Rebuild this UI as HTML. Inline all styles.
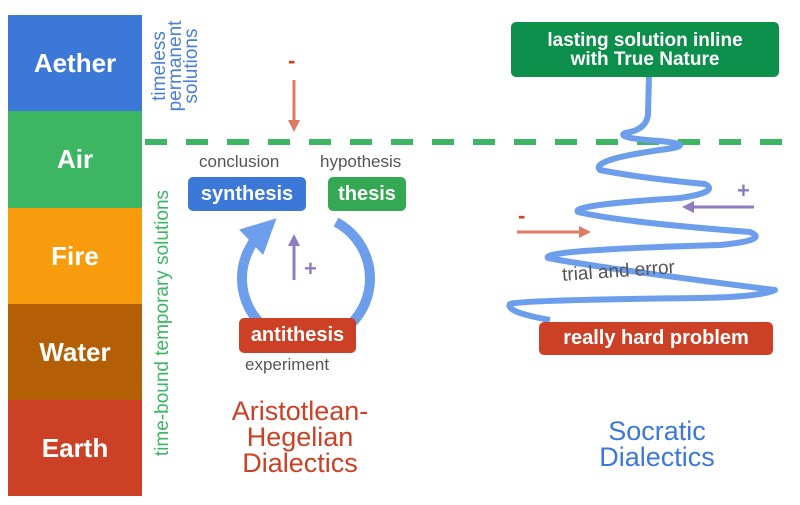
<!DOCTYPE html>
<html><head><style>
body{margin:0;width:800px;height:505px;background:#fff;position:relative;overflow:hidden;font-family:"Liberation Sans",sans-serif}
.bar{position:absolute;left:8px;width:134px;color:#fff;font-size:26px;font-weight:bold;display:flex;align-items:center;justify-content:center}
.box{position:absolute;color:#fff;font-weight:bold;border-radius:5px;display:flex;align-items:center;justify-content:center;text-align:center}
.t{position:absolute;white-space:nowrap}
</style></head><body>
<div class="bar" style="top:15px;height:96px;background:#3c78d8">Aether</div>
<div class="bar" style="top:111px;height:97px;background:#3cb663">Air</div>
<div class="bar" style="top:208px;height:96px;background:#f89b0c">Fire</div>
<div class="bar" style="top:304px;height:96px;background:#b45f06">Water</div>
<div class="bar" style="top:400px;height:96px;background:#cc4125">Earth</div>

<div class="t" style="left:176px;top:66px;transform:translate(-50%,-50%) rotate(-90deg);color:#4a7fd6;font-size:19px;line-height:16px;text-align:center">timeless<br>permanent<br>solutions</div>
<div class="t" style="left:163px;top:323px;transform:translate(-50%,-50%) rotate(-90deg);color:#3cb663;font-size:19px">time-bound temporary solutions</div>

<svg width="800" height="505" style="position:absolute;left:0;top:0">
<defs>
<marker id="ar" markerWidth="4" markerHeight="4" refX="2" refY="2" orient="auto"><path d="M0,0L4,2L0,4z" fill="#e07a64"/></marker>
<marker id="ap" markerWidth="4" markerHeight="4" refX="2" refY="2" orient="auto"><path d="M0,0L4,2L0,4z" fill="#8e7cc3"/></marker>
<marker id="ab" markerWidth="3.5" markerHeight="3.5" refX="1.5" refY="1.75" orient="auto"><path d="M0,0L3.5,1.75L0,3.5z" fill="#6d9eeb"/></marker>
</defs>
<line x1="145" y1="142" x2="800" y2="142" stroke="#3cb663" stroke-width="6" stroke-dasharray="22,19"/>
<line x1="294" y1="80" x2="294" y2="126" stroke="#e07a64" stroke-width="3" marker-end="url(#ar)"/>
<line x1="294" y1="280" x2="294" y2="240" stroke="#8e7cc3" stroke-width="3" marker-end="url(#ap)"/>
<path d="M336,222 A64,64 0 1 1 262,232" fill="none" stroke="#6d9eeb" stroke-width="10" marker-end="url(#ab)"/>
<path d="M649,73 L648,115 Q646,130 625,133 Q615,138 660,141 Q700,145 660,150 Q590,160 600,170 Q640,178 705,184 Q720,192 680,198 Q570,205 578,212 Q620,222 750,232 Q770,240 720,245 Q540,250 548,258 Q600,268 775,290 Q760,297 700,298 Q520,300 510,304 Q505,312 550,320" fill="none" stroke="#6d9eeb" stroke-width="6" stroke-linejoin="round"/>
<line x1="517" y1="232" x2="585" y2="232" stroke="#e07a64" stroke-width="3" marker-end="url(#ar)"/>
<line x1="754" y1="207" x2="688" y2="207" stroke="#8e7cc3" stroke-width="3" marker-end="url(#ap)"/>
</svg>
<div class="t" style="left:288px;top:48px;color:#cc4125;font-size:22px;font-weight:bold">-</div>
<div class="t" style="left:304px;top:256px;color:#8e7cc3;font-size:22px;font-weight:bold">+</div>
<div class="t" style="left:518px;top:203px;color:#cc4125;font-size:22px;font-weight:bold">-</div>
<div class="t" style="left:737px;top:178px;color:#8e7cc3;font-size:22px;font-weight:bold">+</div>

<div class="t" style="left:199px;top:152px;color:#555;font-size:17px">conclusion</div>
<div class="t" style="left:320px;top:152px;color:#555;font-size:17px">hypothesis</div>
<div class="box" style="left:188px;top:177px;width:118px;height:34px;background:#3c78d8;font-size:20px">synthesis</div>
<div class="box" style="left:328px;top:177px;width:78px;height:34px;background:#34a853;font-size:20px">thesis</div>
<div class="box" style="left:239px;top:318px;width:117px;height:35px;background:#cc4125;font-size:20px">antithesis</div>
<div class="t" style="left:245px;top:355px;color:#555;font-size:17px">experiment</div>

<div class="box" style="left:511px;top:22px;width:268px;height:55px;background:#0b8f4a;font-size:19px;line-height:19px">lasting solution inline<br>with True Nature</div>
<div class="t" style="left:562px;top:261px;color:#555;font-size:19px;transform:rotate(-4deg)">trial and error</div>
<div class="box" style="left:539px;top:322px;width:234px;height:33px;background:#cc4125;font-size:20px">really hard problem</div>

<div class="t" style="left:300px;top:398px;transform:translateX(-50%);color:#cc4125;font-size:27px;line-height:26px;text-align:center">Aristotlean-<br>Hegelian<br>Dialectics</div>
<div class="t" style="left:657px;top:418px;transform:translateX(-50%);color:#3c78d8;font-size:27px;line-height:26px;text-align:center">Socratic<br>Dialectics</div>
</body></html>
